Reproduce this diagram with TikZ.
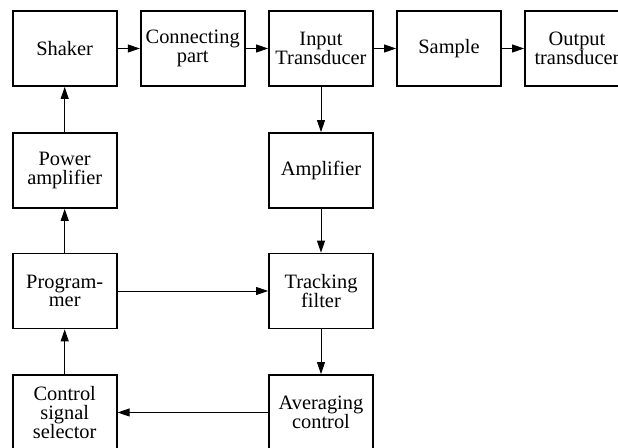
\documentclass[tikz,border=0pt]{standalone}
\usepackage{fontspec}
\setmainfont{Liberation Serif}
\usetikzlibrary{arrows.meta}
\tikzset{
  block/.style={draw=black, line width=0.9pt, minimum width=52pt, minimum height=37.5pt,
    inner sep=0pt, align=center, font=\fontsize{10.2}{9.4}\selectfont},
  link/.style={line width=0.45pt, -{Triangle[length=6pt, width=4pt]}},
}

\begin{document}
\begin{tikzpicture}[x=0.5pt, y=-0.5pt]

  \useasboundingbox (0,0) rectangle (618,448);
  \clip (0,0) rectangle (618,448);

  % top row
  \node[block] (shaker) at (64.7,48.5)  {Shaker};
  \node[block] (conn)   at (192.7,48.5) {Connecting\\part};
  \node[block] (intr)   at (321,48.5)   {Input\\Transducer};
  \node[block] (sample) at (449,48.5)   {Sample};
  \node[block] (outtr)  at (577,48.5)   {Output\\transducer};

  % left column
  \node[block] (power)  at (64.7,170.5) {Power\\amplifier};
  \node[block] (prog)   at (64.7,291)   {Program-\\mer};
  \node[block] (select) at (64.7,412.5) {Control\\signal\\selector};

  % middle column
  \node[block] (amp)    at (321,170.5)  {Amplifier};
  \node[block] (track)  at (321,291)    {Tracking\\filter};
  \node[block] (avg)    at (321,412.5)  {Averaging\\control};

  % signal chain
  \draw[link] (shaker) -- (conn);
  \draw[link] (conn) -- (intr);
  \draw[link] (intr) -- (sample);
  \draw[link] (sample) -- (outtr);

  % measurement path
  \draw[link] (intr) -- (amp);
  \draw[link] (amp) -- (track);
  \draw[link] (track) -- (avg);
  \draw[link] (avg) -- (select);

  % drive path
  \draw[link] (select) -- (prog);
  \draw[link] (prog) -- (power);
  \draw[link] (power) -- (shaker);
  \draw[link] (prog) -- (track);

\end{tikzpicture}
\end{document}
